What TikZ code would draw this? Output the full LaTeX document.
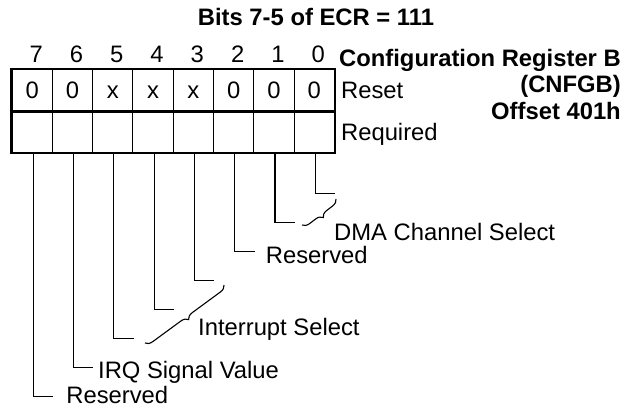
\documentclass[tikz,border=0pt]{standalone}
\usepackage{fontspec}
\setmainfont{Liberation Sans}
\usetikzlibrary{positioning, calc, decorations.pathreplacing}
\newcommand\regfont{\fontsize{23.8}{28}\selectfont}

\begin{document}
\begin{tikzpicture}[x=1pt, y=-1pt, font=\regfont,
    cell/.style={draw, line width=1pt, minimum width=40.3pt, minimum height=41.5pt,
        inner sep=0pt, text height=17pt, text depth=0pt},
    txt/.style={inner sep=0pt, text height=17pt, text depth=0pt},
    bold/.style={txt, font=\regfont\bfseries},
    frame/.style={line width=2.7pt},
    lead/.style={line width=1.1pt},
    brc/.style={line width=1.1pt, decorate, decoration={brace, amplitude=7pt}}]
    \useasboundingbox (0,0) rectangle (634,406);

    \node[bold] (ttl) at (316,17.5) {Bits 7-5 of ECR = 111};

    % register cells, bit 7 on the left
    \foreach \b/\v [count=\i from 0] in {7/0,6/0,5/x,4/x,3/x,2/0,1/0,0/0} {
        \node[cell] (rst\b) at (32.15+40.3*\i, 90.25) {\v};
        \node[cell] (req\b) at (32.15+40.3*\i, 131.75) {};
        \node[txt, above=6pt of rst\b, xshift=4pt] (num\b) {\b};
    }
    \draw[frame] (rst7.north west) rectangle (req0.south east);
    \draw[frame] (rst7.south west) -- (rst0.south east);

    \node[txt, right=6pt of rst0] (reset) {Reset};
    \node[txt, right=6pt of req0] (reqd) {Required};

    \node[bold, anchor=east] (cfg) at (621,58) {Configuration Register B};
    \node[bold, below=9pt of cfg.south east, anchor=north east] (cnfgb) {(CNFGB)};
    \node[bold, below=9pt of cnfgb.south east, anchor=north east] (ofs) {Offset 401h};

    % leaders
    \foreach \b in {0,...,7} {
        \coordinate (e\b) at ($(req\b.south)+(21,40.5+29*\b)$);
        \draw[lead] ([xshift=1pt]req\b.south) |- (e\b);
    }

    \coordinate (dmaA) at (336,199);
    \coordinate (dmaB) at (302,225);
    \draw[brc] (dmaA) -- (dmaB);
    \coordinate (intA) at (224,285);
    \coordinate (intB) at (145,343);
    \draw[brc] (intA) -- (intB);

    \node[txt, anchor=west] (dma) at (334,232) {DMA Channel Select};
    \node[txt, right=11pt of e2, yshift=-3pt] (rsv2) {Reserved};
    \node[txt, anchor=west] (intsel) at (198,327) {Interrupt Select};
    \node[txt, right=4.5pt of e6, yshift=-2pt] (irq) {IRQ Signal Value};
    \node[txt, right=13pt of e7, yshift=2pt] (rsv7) {Reserved};
\end{tikzpicture}
\end{document}
